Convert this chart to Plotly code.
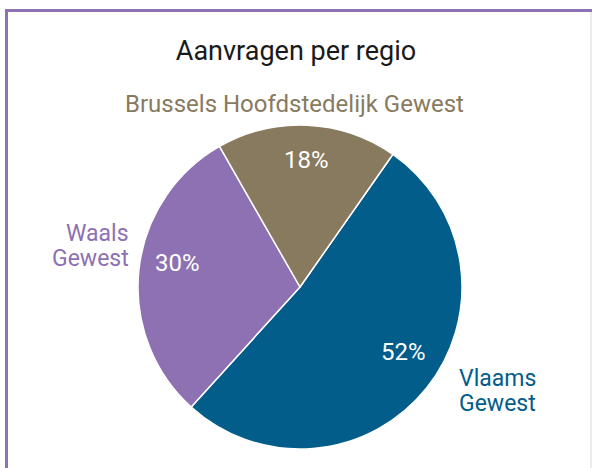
import plotly.graph_objects as go

regions = ["Vlaams Gewest", "Waals Gewest", "Brussels Hoofdstedelijk Gewest"]
shares = [52, 30, 18]
colors = ["#025D8A", "#8D71B3", "#887A5E"]
label_lines = [["Vlaams", "Gewest"], ["Waals", "Gewest"], ["Brussels Hoofdstedelijk Gewest"]]

W, H = 592, 468
cx, cy, r = 300, 287, 162
FONT = "Roboto"

fig = go.Figure(go.Pie(
    labels=regions,
    values=shares,
    sort=False,
    direction="clockwise",
    rotation=35,
    marker=dict(colors=colors, line=dict(color="white", width=1.5)),
    textinfo="none",
    showlegend=False,
    hoverinfo="label+percent",
    domain=dict(x=[(cx - r) / W, (cx + r) / W], y=[(H - cy - r) / H, (H - cy + r) / H]),
))


def px(x, y):
    return x / W, 1 - y / H


# percentage labels inside slices
total = sum(shares)
pct_pos = [(403, 352), (177, 263), (307, 160)]
for (x, y), v in zip(pct_pos, shares):
    ax, ay = px(x, y)
    fig.add_annotation(x=ax, y=ay, xref="paper", yref="paper", text=f"{round(100 * v / total)}%",
                       showarrow=False, xanchor="center", yanchor="middle",
                       font=dict(color="white", size=24, family=FONT))

# outside category labels (one annotation per line for tight spacing)
label_pos = [[(457, 378), (457, 403)], [(131, 233), (131, 258)], [(294, 104)]]
label_sizes = [23, 23, 24]
anchors = ["left", "right", "center"]
for lines, poss, anchor, col, sz in zip(label_lines, label_pos, anchors, colors, label_sizes):
    for txt, (x, y) in zip(lines, poss):
        ax, ay = px(x, y)
        fig.add_annotation(x=ax, y=ay, xref="paper", yref="paper", text=txt,
                           showarrow=False, xanchor=anchor, yanchor="middle",
                           font=dict(color=col, size=sz, family=FONT))

# border
fig.add_shape(type="line", xref="paper", yref="paper", x0=5 / W, x1=1, y0=1 - 10.5 / H, y1=1 - 10.5 / H,
              line=dict(color="#8D71B3", width=3))
fig.add_shape(type="line", xref="paper", yref="paper", x0=6.5 / W, x1=6.5 / W, y0=0, y1=1 - 9 / H,
              line=dict(color="#8D71B3", width=3))
fig.add_shape(type="line", xref="paper", yref="paper", x0=591 / W, x1=591 / W, y0=0, y1=1 - 12 / H,
              line=dict(color="#DAD6E2", width=1))

fig.update_layout(
    width=W, height=H,
    margin=dict(l=0, r=0, t=0, b=0),
    paper_bgcolor="white", plot_bgcolor="white",
    title=dict(text="Aanvragen per regio", x=0.5, xanchor="center", y=1 - 51 / H, yanchor="middle",
               font=dict(size=27, color="#1A1A1A", family=FONT)),
)

fig.write_html("out.html", config={"displayModeBar": False},
               post_script="document.body.style.margin='0';")
